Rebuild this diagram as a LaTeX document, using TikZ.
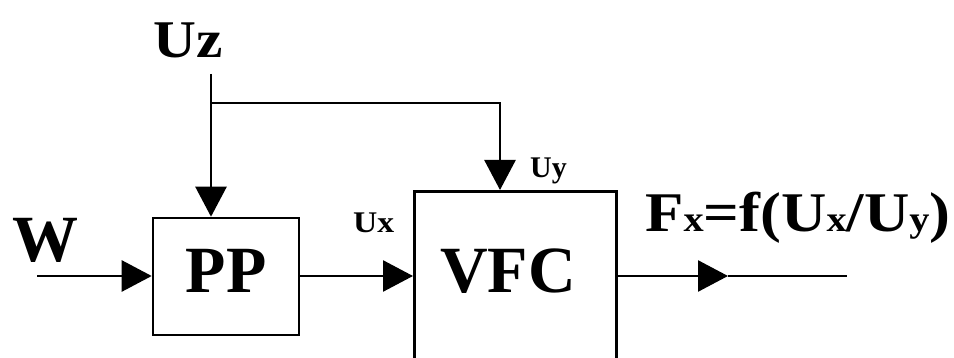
\documentclass[tikz,border=0pt]{standalone}
\usepackage{fontspec}
\setmainfont{Liberation Serif}
\usetikzlibrary{arrows.meta, positioning, calc}

\tikzset{
  wire/.style={line width=2.6pt},
  sig/.style={wire, -{Triangle[length=30pt, width=31pt]}},
  block/.style={draw, line width=2.6pt, inner sep=0pt},
  lbl/.style={inner sep=0pt, font=\bfseries},
  wide/.style={transform shape, xscale=1.12},
}
\newcommand{\fsz}[1]{\fontsize{#1}{#1}\selectfont}

\begin{document}
\begin{tikzpicture}[x=1pt, y=-1pt]
\clip (0,0) rectangle (954,358);

%% blocks
\node[block, minimum width=146pt, minimum height=117pt, text depth=12pt,
      font=\bfseries\fsz{66}] (pp) at (226,276.5) {PP};
\node[block, minimum width=202pt, minimum height=260pt, anchor=north west]
  (vfc) at (413,190) {};
\node[lbl, font=\bfseries\fsz{66}, anchor=base] (vfctxt) at (508,293) {VFC};

%% inputs and outputs
\coordinate (win)    at (37,276);
\coordinate (uzstart) at (211,74);
\coordinate (branch) at (211,103);
\coordinate (uyin)   at (500,190);
\coordinate (fxtip)  at (728,276);
\coordinate (fxend)  at (847,276);

\draw[sig]  (win) -- (pp.west |- win);
\draw[sig]  (uzstart) -- (uzstart |- pp.north);
\draw[sig]  (branch) -| (uyin);
\draw[sig]  (pp.east |- win) -- (vfc.west |- win);
\draw[sig]  (vfc.east |- win) -- (fxtip);
\draw[wire] (fxtip) -- (fxend);

%% labels
\node[lbl, wide, font=\bfseries\fsz{53}, anchor=base west] (uz) at (153,58) {Uz};
\node[lbl, font=\bfseries\fsz{66}, anchor=base west] (w)  at (12,262) {W};
\node[lbl, wide, font=\bfseries\fsz{30}, anchor=base west] (ux) at (353,233) {Ux};
\node[lbl, font=\bfseries\fsz{30}, anchor=base west] (uy) at (530,178) {Uy};
\node[lbl, wide, font=\bfseries\fsz{56}, anchor=base west] (fx) at (645,232)
  {F{\fsz{36}x}=f(U{\fsz{36}x}/U{\fsz{36}y})};
\end{tikzpicture}
\end{document}
